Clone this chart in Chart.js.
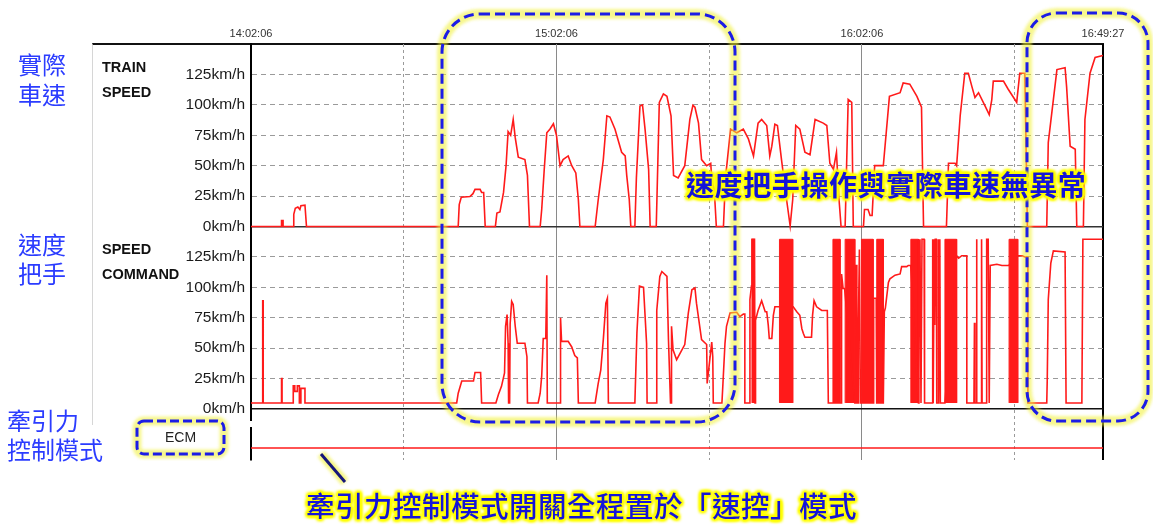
<!DOCTYPE html>
<html><head><meta charset="utf-8">
<script src="https://cdn.jsdelivr.net/npm/chart.js@4.4.1/dist/chart.umd.min.js"></script>
<style>
html,body{margin:0;padding:0;background:#fff;width:1153px;height:525px;overflow:hidden;}
#wrap{position:relative;width:1153px;height:525px;}
#frame{position:absolute;left:92px;top:43px;width:1011px;height:380px;border-top:2px solid #111;border-left:1px solid #d6d6d6;}
#c{position:absolute;left:0;top:0;}
#ov{position:absolute;left:0;top:0;}
.lbl{position:absolute;font-family:"Noto Sans CJK TC","Noto Sans CJK SC",sans-serif;color:#2b3cff;font-size:24px;white-space:nowrap;}
.en{position:absolute;font-family:"Liberation Sans",Arial,sans-serif;font-weight:bold;font-size:14.5px;line-height:25px;color:#111;white-space:nowrap;}
.note{position:absolute;font-family:"Noto Sans CJK TC","Noto Sans CJK SC",sans-serif;color:#1414d8;white-space:nowrap;
text-shadow:0 0 2px #ff0,0 0 2px #ff0,0 0 3px #ff0,0 0 3px #ff0,0 0 4px #ff0,0 0 4px #ff0,0 0 5px #ff0,
2px 0 2px #ff0,-2px 0 2px #ff0,0 2px 2px #ff0,0 -2px 2px #ff0,2px 2px 3px #ff0,-2px -2px 3px #ff0,2px -2px 3px #ff0,-2px 2px 3px #ff0;}
#ecm{position:absolute;left:137px;top:421px;width:87px;height:33px;line-height:33px;text-align:center;font-family:"Liberation Sans",Arial,sans-serif;font-size:14px;color:#222;}
</style>
</head>
<body>
<div id="wrap">
<div id="frame"></div>
<canvas id="c" width="1153" height="525"></canvas>
<svg id="ov" width="1153" height="525" viewBox="0 0 1153 525">
<defs><filter id="glow" x="-20%" y="-20%" width="140%" height="140%"><feGaussianBlur stdDeviation="1.8"/></filter></defs>
<rect x="442" y="14" width="293" height="408" rx="38" fill="none" stroke="#f0f030" stroke-width="10" opacity="0.55" filter="url(#glow)"/>
<rect x="442" y="14" width="293" height="408" rx="38" fill="none" stroke="#1c1ce6" stroke-width="3" stroke-dasharray="10 5"/>
<rect x="1027" y="13" width="121" height="408" rx="30" fill="none" stroke="#f0f030" stroke-width="10" opacity="0.55" filter="url(#glow)"/>
<rect x="1027" y="13" width="121" height="408" rx="30" fill="none" stroke="#1c1ce6" stroke-width="3" stroke-dasharray="10 5"/>
<rect x="137" y="421" width="87" height="33" rx="7" fill="none" stroke="#f0f030" stroke-width="9" opacity="0.55" filter="url(#glow)"/>
<rect x="137" y="421" width="87" height="33" rx="7" fill="none" stroke="#1c1ce6" stroke-width="3" stroke-dasharray="9 4"/>
<line x1="321" y1="454" x2="345" y2="482" stroke="#f0f030" stroke-width="9" opacity="0.6" filter="url(#glow)"/>
<line x1="321" y1="454" x2="345" y2="482" stroke="#16167a" stroke-width="3"/>
</svg>
<div class="lbl" style="left:18px;top:49px;line-height:30px">實際<br>車速</div>
<div class="lbl" style="left:18px;top:229px;line-height:29px">速度<br>把手</div>
<div class="lbl" style="left:7px;top:406px;line-height:28.5px">牽引力<br>控制模式</div>
<div class="en" style="left:102px;top:55px">TRAIN<br>SPEED</div>
<div class="en" style="left:102px;top:236.5px">SPEED<br>COMMAND</div>
<div id="ecm">ECM</div>
<div class="note" style="left:686px;top:169px;font-size:28px;line-height:30px;font-weight:700;letter-spacing:0.6px">速度把手操作與實際車速無異常</div>
<div class="note" style="left:306px;top:490px;font-size:28.5px;line-height:30px;font-weight:500;letter-spacing:0.5px">牽引力控制模式開關全程置於「速控」模式</div>
</div>
<script>
// ---------- DATA (time = minutes after 14:02:06, values in km/h) ----------
const timeTickValues = [0, 60, 120, 167.35];
const timeTickLabels = ['14:02:06', '15:02:06', '16:02:06', '16:49:27'];
const halfHourValues = [30, 90, 150];
const kmhTicks = [0, 25, 50, 75, 100, 125];

// TRAIN SPEED (actual speed)
const speedPoints = [
[0,0],[6.0,0],[6.0,5],[6.3,5],[6.3,0],
[8.3,0],[8.4,10],[8.7,15],[9.2,16],[9.6,14],[9.8,17],[10.6,17.5],[10.9,0],
[40.7,0],[40.9,18],[41.3,24],[43.0,24.6],[43.6,27],[44.0,30.5],[45.0,30.5],[45.3,28],[45.7,28],[46.0,0],
[48.0,0],[48.3,11],[48.9,12],[49.6,28],[50.1,50],[50.5,78],[51.0,75],[51.5,88],[51.9,73],[52.5,57],[53.8,55],[54.3,42],[54.7,0],
[56.8,0],[57.1,14],[57.6,47],[58.1,77],[58.7,80],[59.4,84.5],[60.0,75],[60.7,50],[61.3,55],[62.3,58],[63.0,50],[63.8,44],[64.3,22],[64.6,0],
[67.6,0],[68.2,22],[69.2,55],[69.9,91],[70.5,90],[71.5,80],[72.8,61],[73.5,58],[73.8,42],[74.3,22],[74.6,0],
[75.4,0],[75.7,40],[76.4,99],[76.9,100],[77.4,80],[78.1,47],[78.4,0],
[79.6,0],[80.2,102],[81.0,109],[81.7,107],[82.5,91],[83.0,42],[83.9,40],[85.2,50],[86.2,88],[86.8,99.6],[87.2,98],[87.9,85],[88.5,55],[89.5,50],[90.3,52],[90.5,39],[91.0,30],[91.4,0],[92.8,0],[93.2,40],[94.2,80],[95.4,77],[96.7,80],[97.7,72],[98.7,58],[99.6,85],[100.3,88],[101.3,83],[101.9,58],[102.3,66],[102.9,84],[103.4,83],[104.2,55],[105.2,22],[105.9,0.5],[106.4,22],[107.0,83],[107.8,80],[108.8,61],[109.8,59],[110.8,88],[112.4,85],[113.1,83],[113.7,52],[114.4,47],[115.0,61],[115.4,28],[115.9,0],[116.7,0],[117.3,104.5],[118.0,102],[118.3,0],
[120.3,0],[120.5,14],[121.2,14],[121.6,9],[122.0,9],[122.5,50],[124.2,50],[125.4,107],[127.5,110],[128.1,118],[129.4,117],[130.8,107],[131.7,98],[132.1,0],
[136.6,0],[137.0,52],[138.3,52],[138.6,50],[139.3,91],[140.2,126],[140.9,126],[141.6,115],[142.2,106],[142.9,110],[144.2,99],[145.0,92],[145.5,104],[145.8,119.5],[147.8,119.5],[148.7,113],[150.1,104],[150.4,102],[151.0,126],[152.0,126],[152.5,0],
[156.3,0],[156.6,69],[158.3,129],[159.9,130.5],[160.2,115],[160.9,66],[161.9,63.5],[162.2,0],[163.5,0],[163.8,88],[164.8,126],[165.8,139],[167.35,140.6]
];

// SPEED COMMAND (handle)
const cmdIdle = 5;
const burstPeak = 139.5;
const commandPoints = [
[0,5],[2.3,5],[2.3,89],[2.4,89],[2.4,5],
[6.0,5],[6.0,25],[6.1,25],[6.1,5],
[8.3,5],[8.3,19],[8.6,19],[8.6,14.5],[9.1,14.5],[9.1,19],[9.5,19],[9.5,5],[9.8,5],[9.8,17],[10.6,17],[10.6,5],
[40.4,5],[40.7,13],[41.4,23],[43.7,23],[44.0,30],[45.1,30],[45.3,5],
[48.1,5],[48.6,12],[49.2,18.6],[49.8,29.6],[50.0,68],[50.3,77.6],[50.5,54],[50.6,5],[50.8,5],[50.9,70],[51.2,88.5],[51.5,86],[51.9,68],[52.3,54],[53.8,54],[54.2,43],[54.3,5],
[56.4,5],[56.8,13],[57.1,27],[57.4,58],[57.9,58],[58.1,110],[58.2,5],
[60.7,5],[60.8,75],[61.0,55.6],[62.3,55.6],[63.0,51],[63.6,44],[64.1,42],[64.3,5],
[67.6,5],[68.2,21],[68.7,32],[69.2,57],[69.7,87],[70.0,91],[70.2,5],
[75.4,5],[75.8,62.5],[76.3,101],[77.1,100],[77.7,54],[77.8,5],
[79.6,5],[79.7,81],[80.3,109],[80.7,113],[81.7,109],[82.0,57],[82.4,5],
[82.6,5],[82.6,68],[82.9,48.6],[83.6,40.5],[84.3,46],[85.2,53],[85.9,79],[86.6,98],[87.2,99.5],[87.5,87],[88.5,57],[89.5,53],[89.6,21],[90.5,55],[90.7,43],[90.8,5],
[92.5,5],[92.7,21],[93.1,54],[93.4,68],[94.1,79],[95.4,79.5],[96.0,76],[96.7,78],[97.0,78],[97.0,5],[98.0,5],[98.0,90],[98.3,101],[98.4,139.5],[98.9,139.5],[99.0,5],[99.1,73],[99.6,81],[100.3,89],[101.0,80],[101.3,80],[101.6,69],[101.8,58],[102.3,58],[102.6,77],[102.9,84],[103.7,84],
[106.5,84],[107.2,80],[107.8,77],[108.2,66],[108.5,62],[108.8,59],[110.1,59],[110.3,77],[110.6,89],[111.1,84],[112.1,81],[113.2,81],[113.4,5],[114.3,5],
[115.7,5],[115.9,5],[116.0,111],[116.3,99],[116.6,99],
[118.6,5],[118.8,5],[118.8,118],[119.0,118],[119.0,5],[119.3,5],[119.3,69],[119.5,131],[119.7,5],
[122.2,5],[122.3,91],[122.8,91],[122.9,5],
[124.2,5],[124.4,80],[124.6,83],[125.2,104],[125.5,107],[126.5,110],[127.5,111],[127.8,117],[128.8,117],[129.1,118],[129.6,118],
[131.1,5],[131.2,139.5],[131.3,74],[131.4,139.5],[131.6,5],[131.8,139.5],[132.2,139.5],[132.3,5],[133.8,5],[133.9,139.5],[134.0,5],[134.2,139.5],[134.3,69],[134.4,139.5],[134.6,139.5],[134.7,5],[135.0,5],[135.0,139.5],[135.1,5],[135.3,139.5],[135.4,5],[136.3,5],
[138.6,126],[139.0,124],[139.6,126],[140.6,126],[140.6,5],[142.0,5],[142.1,71],[142.2,5],[142.5,5],[142.5,139.5],[142.6,5],[143.5,5],[143.5,139.5],[143.6,5],[144.5,5],[144.5,139.5],[144.8,139.5],[145.0,5],[145.1,5],[145.2,118],[146.5,119],[147.5,118],[148.8,118],
[150.7,126],[151.5,126],[152.0,125],[152.6,125],[152.6,5],[156.3,5],[156.4,24],[156.6,90],[157.1,120],[157.6,130],[159.9,129],[160.1,5],[163.2,5],[163.4,139.5],[167.35,139.5]
];
// windows where the command toggles too fast to resolve (idle <-> burstPeak)
const cmdBursts = [[98.4,98.9],[103.8,106.4],[114.3,115.7],[116.7,118.6],[119.9,122.2],[122.9,124.2],[129.6,131.1],[136.3,138.6],[148.9,150.6]];

// ECM traction-control mode (1 = speed-control mode on)
const ecmPoints = [[0,1],[167.35,1]];

// ---------- LAYOUT / STYLE ----------
const X_MAX = 167.35;
const TOP_OFFSET = 150;      // top panel sits above the command panel on one shared axis
const ECM_LEVEL = -32;       // where the ECM trace sits below the command panel
const RED = '#ff1a1a';
const lineStyle = {borderColor: RED, borderWidth: 1.6, pointRadius: 0, tension: 0, fill: false};

const datasets = [
  Object.assign({data: speedPoints.map(([t,v]) => ({x:t, y:v + TOP_OFFSET}))}, lineStyle),
  Object.assign({data: commandPoints.map(([t,v]) => ({x:t, y:v}))}, lineStyle)
];
cmdBursts.forEach(([a,b]) => {
  datasets.push({data: [{x:a,y:cmdIdle},{x:a,y:burstPeak},{x:b,y:burstPeak},{x:b,y:cmdIdle}],
    borderColor: RED, backgroundColor: RED, borderWidth: 1, pointRadius: 0, fill: {value: cmdIdle}});
});
datasets.push(Object.assign({data: ecmPoints.map(([t,on]) => ({x:t, y: on ? ECM_LEVEL : ECM_LEVEL - 6}))}, lineStyle, {borderWidth: 1.4}));

const yTickValues = kmhTicks.concat(kmhTicks.map(v => v + TOP_OFFSET)).concat([TOP_OFFSET * 2]);

const axisGap = {
  id: 'axisGap',
  afterDraw(chart) {
    const y = chart.scales.y;
    const t = y.getPixelForValue(-10), b = y.getPixelForValue(-14.5);
    chart.ctx.clearRect(chart.chartArea.left - 3, t, 6, b - t);
  }
};

new Chart(document.getElementById('c'), {
  type: 'line',
  data: {datasets},
  plugins: [axisGap],
  options: {
    responsive: false, animation: false, devicePixelRatio: 1,
    layout: {padding: {left: 0, right: 50, top: 0, bottom: 65}},
    plugins: {legend: {display: false}, tooltip: {enabled: false}},
    scales: {
      x: {
        type: 'linear', position: 'top', min: 0, max: X_MAX,
        afterFit: s => { s.height = 44; },
        afterBuildTicks: s => { s.ticks = [0,30,60,90,120,150,X_MAX].map(v => ({value: v})); },
        ticks: {
          autoSkip: false, maxRotation: 0, padding: 3, color: '#333',
          font: {family: 'Liberation Sans', size: 11},
          callback: v => { const i = timeTickValues.indexOf(v); return i >= 0 ? timeTickLabels[i] : ''; }
        },
        grid: {
          drawTicks: false,
          color: c => { const v = c.tick ? c.tick.value : null;
            if (v === 0) return 'rgba(0,0,0,0)';
            if (v === X_MAX) return '#000';
            return halfHourValues.includes(v) ? '#9a9a9a' : '#8a8a8a'; },
          lineWidth: c => (c.tick && c.tick.value === X_MAX) ? 2 : 1
        },
        border: {display: false, dash: c => (c.tick && halfHourValues.includes(c.tick.value)) ? [3, 3] : []}
      },
      y: {
        type: 'linear', position: 'left', min: -41.9, max: 300,
        afterFit: s => { s.width = 251; },
        afterBuildTicks: s => { s.ticks = yTickValues.map(v => ({value: v})); },
        ticks: {
          autoSkip: false, padding: 6, color: '#1a1a1a',
          font: {family: 'Liberation Sans', size: 15.5},
          callback: v => v >= TOP_OFFSET * 2 ? '' : (v >= TOP_OFFSET ? (v - TOP_OFFSET) : v) + 'km/h'
        },
        grid: {
          drawTicks: false,
          color: c => { const v = c.tick ? c.tick.value : null;
            if (v === 300) return 'rgba(0,0,0,0)';
            if (v === 0) return '#111';
            if (v === TOP_OFFSET) return '#333';
            return '#9a9a9a'; },
          lineWidth: c => { const v = c.tick ? c.tick.value : null; return (v === 0 || v === TOP_OFFSET) ? 1.5 : 1; }
        },
        border: {display: true, color: '#000', width: 2,
          dash: c => { const v = c.tick ? c.tick.value : null; return (v === null || v === 0 || v === TOP_OFFSET) ? [] : [5, 4]; }}
      }
    }
  }
});
</script>
</body></html>
